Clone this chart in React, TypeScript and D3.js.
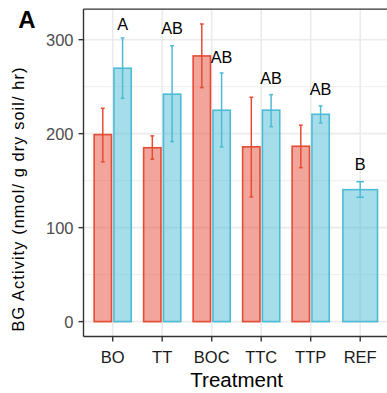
import React from "react";
import * as d3 from "d3";

const categories = ["BO", "TT", "BOC", "TTC", "TTP", "REF"];
const redMean: (number | null)[] = [199, 185, 282.7, 186, 186.6, null];
const redLo: (number | null)[] = [170, 172.8, 249, 132.7, 163.8, null];
const redHi: (number | null)[] = [227, 197.6, 316.7, 238.7, 209, null];
const blueMean = [269.6, 242, 224.9, 225, 220.6, 140.4];
const blueLo = [237.7, 191.5, 185.9, 207.4, 211.4, 132.3];
const blueHi = [301.8, 293.6, 264.6, 241.5, 229.5, 148.9];
const letters = ["A", "AB", "AB", "AB", "AB", "B"];
const letterY = [310.3, 305.7, 275.5, 252.6, 241.2, 161.4];
const yTicks = [0, 100, 200, 300];
const yMinor = [50, 150, 250];

const W = 387;
const H = 393;
const RED = "#E64B35";
const BLUE = "#4DBBD5";
const FONT = "'Liberation Sans', Arial, Helvetica, sans-serif";

export default function App() {
  const x = d3
    .scaleBand<string>()
    .domain(categories)
    .range([83, 389.9])
    .paddingInner(0)
    .paddingOuter(0.1);
  const step = x.step();
  const cx = (c: string) => (x(c) as number) + x.bandwidth() / 2;
  const yMax = d3.max([...blueHi, ...(redHi.filter((v) => v != null) as number[])]) as number;
  const pad = yMax * 0.05;
  const y = d3.scaleLinear().domain([-pad, yMax + pad]).range([336.5, 9.1]);

  const barW = step * 0.35;
  const dodge = step * 0.2;
  const left = 83.5;
  const bottom = y(-pad);
  const top = y(yMax + pad);

  const bars: React.ReactNode[] = [];
  categories.forEach((c, i) => {
    const center = cx(c);
    const hasRed = redMean[i] != null;
    const items: { mean: number; lo: number; hi: number; col: string; xc: number; w: number }[] = [];
    if (hasRed) {
      items.push({ mean: redMean[i] as number, lo: redLo[i] as number, hi: redHi[i] as number, col: RED, xc: center - dodge, w: barW });
      items.push({ mean: blueMean[i], lo: blueLo[i], hi: blueHi[i], col: BLUE, xc: center + dodge, w: barW });
    } else {
      items.push({ mean: blueMean[i], lo: blueLo[i], hi: blueHi[i], col: BLUE, xc: center, w: barW * 2 });
    }
    items.forEach((it, k) => {
      const cap = it.w * 0.22;
      bars.push(
        <g key={`${c}-${k}`}>
          <rect
            x={it.xc - it.w / 2}
            y={y(it.mean)}
            width={it.w}
            height={y(0) - y(it.mean)}
            fill={it.col}
            fillOpacity={0.5}
            stroke={it.col}
            strokeWidth={1.6}
          />
          <line x1={it.xc} x2={it.xc} y1={y(it.lo)} y2={y(it.hi)} stroke={it.col} strokeWidth={1.5} />
          <line x1={it.xc - cap / 2} x2={it.xc + cap / 2} y1={y(it.lo)} y2={y(it.lo)} stroke={it.col} strokeWidth={1.5} />
          <line x1={it.xc - cap / 2} x2={it.xc + cap / 2} y1={y(it.hi)} y2={y(it.hi)} stroke={it.col} strokeWidth={1.5} />
        </g>
      );
    });
  });

  return (
    <svg width={W} height={H} style={{ position: "absolute", left: 0, top: 0, background: "#fff" }} fontFamily={FONT}>
      <rect x={0} y={0} width={W} height={H} fill="#fff" />
      {yMinor.map((v) => (
        <line key={`mn${v}`} x1={left} x2={W} y1={y(v)} y2={y(v)} stroke="#EBEBEB" strokeWidth={0.8} />
      ))}
      {yTicks.map((v) => (
        <line key={`mj${v}`} x1={left} x2={W} y1={y(v)} y2={y(v)} stroke="#EBEBEB" strokeWidth={1.6} />
      ))}
      {categories.map((c) => (
        <line key={`vg${c}`} x1={cx(c)} x2={cx(c)} y1={top} y2={bottom} stroke="#EBEBEB" strokeWidth={1.6} />
      ))}
      {bars}
      {categories.map((c, i) => (
        <text
          key={`lt${c}`}
          x={redMean[i] != null ? cx(c) + dodge : cx(c)}
          y={y(letterY[i])}
          textAnchor="middle"
          fontSize={16.3}
          fill="#000"
        >
          {letters[i]}
        </text>
      ))}
      <line x1={left} x2={W} y1={top} y2={top} stroke="#333" strokeWidth={1.4} />
      <line x1={left} x2={left} y1={top} y2={bottom} stroke="#333" strokeWidth={1.4} />
      <line x1={left} x2={W} y1={bottom} y2={bottom} stroke="#333" strokeWidth={1.4} />
      {yTicks.map((v) => (
        <g key={`yt${v}`}>
          <line x1={left - 5} x2={left} y1={y(v)} y2={y(v)} stroke="#333" strokeWidth={1.4} />
          <text x={left - 10} y={y(v)} dy="0.36em" textAnchor="end" fontSize={16.5} fill="#4D4D4D">
            {v}
          </text>
        </g>
      ))}
      {categories.map((c) => (
        <g key={`xt${c}`}>
          <line x1={cx(c)} x2={cx(c)} y1={bottom} y2={bottom + 5} stroke="#333" strokeWidth={1.4} />
          <text x={cx(c)} y={362.5} textAnchor="middle" fontSize={16.5} fill="#1a1a1a">
            {c}
          </text>
        </g>
      ))}
      <text x={(left + 389.9) / 2} y={386.5} textAnchor="middle" fontSize={20.5} fill="#000">
        Treatment
      </text>
      <text
        transform={`translate(24,199.5) rotate(-90)`}
        textAnchor="middle"
        fontSize={16.3}
        fill="#000"
        textLength={264}
        lengthAdjust="spacing"
      >
        BG Activity (nmol/ g dry soil/ hr)
      </text>
      <text x={27} y={28} textAnchor="middle" fontSize={24} fontWeight="bold" fill="#000">
        A
      </text>
    </svg>
  );
}
